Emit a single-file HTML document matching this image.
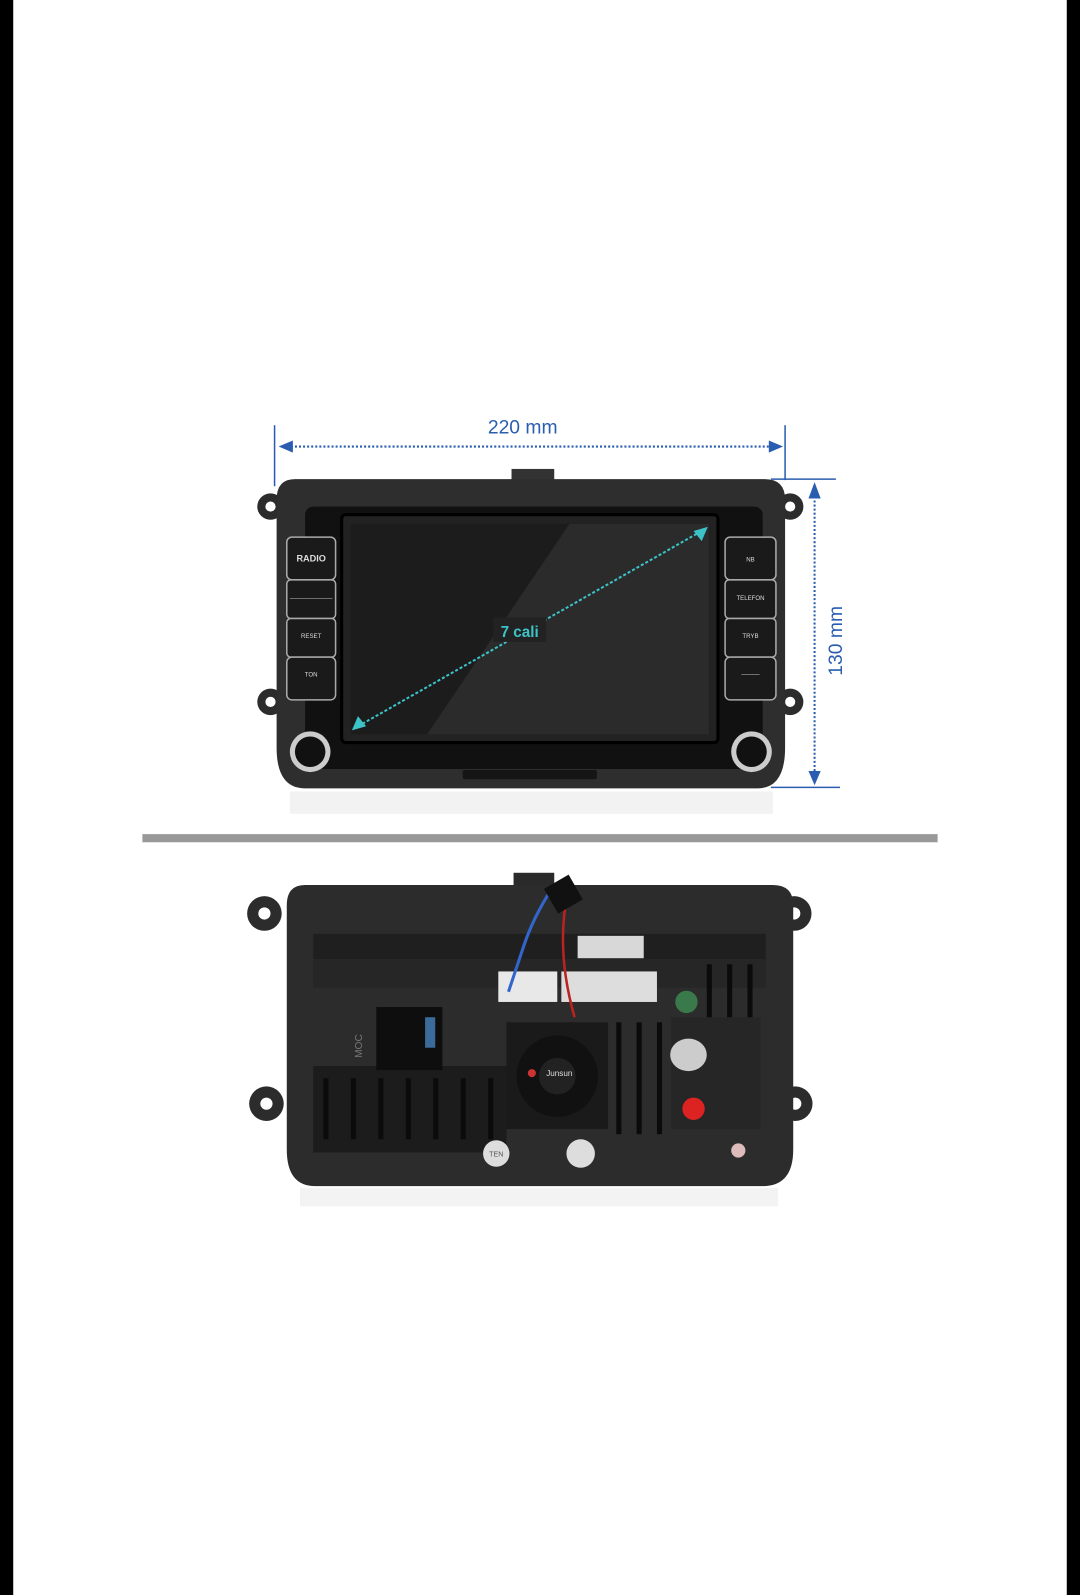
<!DOCTYPE html>
<html><head><meta charset="utf-8"><style>html,body{margin:0;padding:0;background:#fff}svg{display:block}</style></head><body>
<svg width="1080" height="1595" viewBox="0 0 1062 1568" preserveAspectRatio="none" xmlns="http://www.w3.org/2000/svg" font-family="Liberation Sans, sans-serif">
<rect width="1062" height="1568" fill="#fff"/>
<rect x="0" y="0" width="13" height="1568" fill="#000"/>
<rect x="1049" y="0" width="13" height="1568" fill="#000"/>
<!-- dimensions -->
<g stroke="#2a5db0" fill="#2a5db0">
<line x1="270" y1="418" x2="270" y2="478" stroke-width="1.5"/>
<line x1="772" y1="418" x2="772" y2="472" stroke-width="1.5"/>
<line x1="282" y1="439" x2="762" y2="439" stroke-width="2" stroke-dasharray="2,2"/>
<polygon points="274,439 288,433 288,445" stroke="none"/>
<polygon points="770,439 756,433 756,445" stroke="none"/>
<line x1="758" y1="471" x2="822" y2="471" stroke-width="1.5"/>
<line x1="758" y1="774" x2="826" y2="774" stroke-width="1.5"/>
<line x1="801" y1="484" x2="801" y2="764" stroke-width="2" stroke-dasharray="2,2"/>
<polygon points="801,474 795,490 807,490" stroke="none"/>
<polygon points="801,772 795,758 807,758" stroke="none"/>
</g>
<text x="514" y="426" font-size="19" fill="#2a5db0" text-anchor="middle">220 mm</text>
<text x="0" y="0" font-size="19" fill="#2a5db0" text-anchor="middle" transform="translate(828,630) rotate(-90)">130 mm</text>
<!-- front unit -->
<rect x="503" y="461" width="42" height="14" fill="#333"/>
<circle cx="266" cy="498" r="13" fill="#2c2c2c"/><circle cx="266" cy="498" r="5" fill="#fff"/>
<circle cx="777" cy="498" r="13" fill="#2c2c2c"/><circle cx="777" cy="498" r="5" fill="#fff"/>
<circle cx="266" cy="690" r="13" fill="#2c2c2c"/><circle cx="266" cy="690" r="5" fill="#fff"/>
<circle cx="777" cy="690" r="13" fill="#2c2c2c"/><circle cx="777" cy="690" r="5" fill="#fff"/>
<path d="M290 471 H752 Q772 471 772 491 V735 Q772 775 745 775 H300 Q272 775 272 735 V491 Q272 471 290 471Z" fill="#2e2e2e"/>
<rect x="300" y="498" width="450" height="258" rx="8" fill="#111"/>
<rect x="336" y="506" width="370" height="224" rx="4" fill="#222" stroke="#000" stroke-width="3"/>
<polygon points="345,515 560,515 420,722 345,722" fill="#1c1c1c"/>
<polygon points="560,515 697,515 697,722 420,722" fill="#2b2b2b"/>
<line x1="352" y1="714" x2="690" y2="522" stroke="#3cc3c8" stroke-width="2" stroke-dasharray="3,2"/>
<polygon points="346,718 360,714 352,704" fill="#3cc3c8"/>
<polygon points="696,518 682,522 690,532" fill="#3cc3c8"/>
<rect x="485" y="607" width="52" height="24" fill="#222"/>
<text x="511" y="626" font-size="15" font-weight="bold" fill="#3cc3c8" text-anchor="middle">7 cali</text>
<g fill="#1a1a1a" stroke="#aaa" stroke-width="1.5">
<rect x="282" y="528" width="48" height="42" rx="5"/>
<rect x="282" y="570" width="48" height="38" rx="4"/>
<rect x="282" y="608" width="48" height="38" rx="4"/>
<rect x="282" y="646" width="48" height="42" rx="5"/>
<rect x="713" y="528" width="50" height="42" rx="5"/>
<rect x="713" y="570" width="50" height="38" rx="4"/>
<rect x="713" y="608" width="50" height="38" rx="4"/>
<rect x="713" y="646" width="50" height="42" rx="5"/>
</g>
<g fill="#ddd" font-size="6" text-anchor="middle">
<text x="306" y="552" font-size="9" font-weight="bold">RADIO</text>
<text x="306" y="590">———————</text>
<text x="306" y="627">RESET</text>
<text x="306" y="665">TON</text>
<text x="738" y="552">NB</text>
<text x="738" y="590">TELEFON</text>
<text x="738" y="627">TRYB</text>
<text x="738" y="665">———</text>
</g>
<circle cx="305" cy="739" r="20" fill="#ccc"/><circle cx="305" cy="739" r="15" fill="#111"/>
<circle cx="739" cy="739" r="20" fill="#ccc"/><circle cx="739" cy="739" r="15" fill="#111"/>
<rect x="455" y="757" width="132" height="9" rx="2" fill="#151515"/>
<rect x="285" y="778" width="475" height="22" fill="#f2f2f2"/>
<!-- separator -->
<rect x="140" y="820" width="782" height="8" fill="#999"/>
<!-- back unit -->
<rect x="505" y="858" width="40" height="16" fill="#2a2a2a"/>
<circle cx="260" cy="898" r="17" fill="#2c2c2c"/><circle cx="260" cy="898" r="6" fill="#fff"/>
<circle cx="781" cy="898" r="17" fill="#2c2c2c"/><circle cx="781" cy="898" r="6" fill="#fff"/>
<circle cx="262" cy="1085" r="17" fill="#2c2c2c"/><circle cx="262" cy="1085" r="6" fill="#fff"/>
<circle cx="782" cy="1085" r="17" fill="#2c2c2c"/><circle cx="782" cy="1085" r="6" fill="#fff"/>
<path d="M300 870 H760 Q780 870 780 890 V1130 Q780 1166 750 1166 H310 Q282 1166 282 1130 V890 Q282 870 300 870Z" fill="#2c2c2c"/>
<rect x="308" y="918" width="445" height="25" fill="#1f1f1f"/>
<rect x="308" y="943" width="445" height="28" fill="#262626"/>
<rect x="308" y="1048" width="190" height="85" fill="#1c1c1c"/>
<g fill="#0b0b0b">
<rect x="318" y="1060" width="5" height="60"/><rect x="345" y="1060" width="5" height="60"/><rect x="372" y="1060" width="5" height="60"/><rect x="399" y="1060" width="5" height="60"/><rect x="426" y="1060" width="5" height="60"/><rect x="453" y="1060" width="5" height="60"/><rect x="480" y="1060" width="5" height="60"/>
<rect x="606" y="1005" width="5" height="110"/><rect x="626" y="1005" width="5" height="110"/><rect x="646" y="1005" width="5" height="110"/>
<rect x="695" y="948" width="5" height="70"/><rect x="715" y="948" width="5" height="70"/><rect x="735" y="948" width="5" height="70"/>
</g>
<rect x="370" y="990" width="65" height="62" fill="#0e0e0e"/>
<rect x="418" y="1000" width="10" height="30" fill="#3a6b9a"/>
<text x="0" y="0" font-size="10" fill="#777" transform="translate(356,1040) rotate(-90)">MOC</text>
<rect x="490" y="955" width="58" height="30" fill="#e8e8e8"/>
<rect x="552" y="955" width="94" height="30" fill="#ddd"/>
<rect x="568" y="920" width="65" height="22" fill="#d8d8d8"/>
<rect x="498" y="1005" width="100" height="105" fill="#1a1a1a"/>
<circle cx="548" cy="1058" r="40" fill="#111"/>
<circle cx="548" cy="1058" r="18" fill="#222"/>
<text x="550" y="1058" font-size="8" fill="#ddd" text-anchor="middle">Junsun</text>
<circle cx="523" cy="1055" r="4" fill="#c33"/>
<rect x="660" y="1000" width="88" height="110" fill="#262626"/>
<circle cx="675" cy="985" r="11" fill="#3a7a4a"/>
<ellipse cx="677" cy="1037" rx="18" ry="16" fill="#ccc"/>
<circle cx="682" cy="1090" r="11" fill="#d22"/>
<circle cx="488" cy="1134" r="13" fill="#ddd"/><text x="488" y="1137" font-size="7" text-anchor="middle" fill="#555">TEN</text>
<circle cx="571" cy="1134" r="14" fill="#ddd"/>
<circle cx="726" cy="1131" r="7" fill="#dbb"/>
<path d="M545 870 Q525 900 515 930 L500 975" stroke="#3366cc" stroke-width="3" fill="none"/>
<path d="M560 870 Q545 930 565 1000" stroke="#b22" stroke-width="2.5" fill="none"/>
<rect x="540" y="865" width="28" height="28" fill="#111" transform="rotate(-30 554 879)"/>
<rect x="295" y="1168" width="470" height="18" fill="#f3f3f3"/>
</svg>
</body></html>
